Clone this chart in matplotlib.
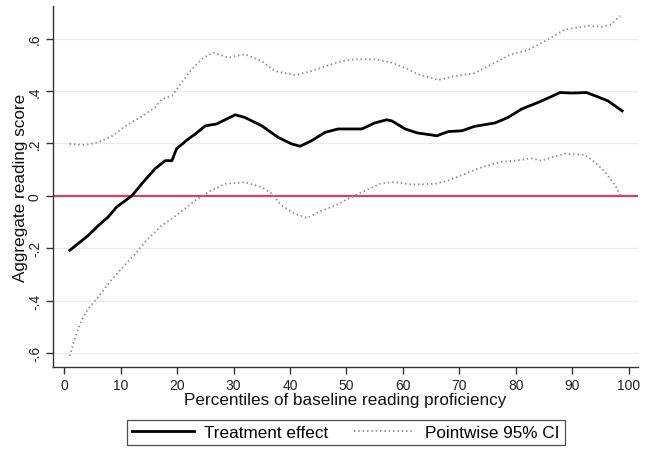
import matplotlib
matplotlib.use("Agg")
import matplotlib.pyplot as plt
from matplotlib.lines import Line2D

plt.rcParams["font.family"] = ["Liberation Sans", "DejaVu Sans"]

# Treatment effect by baseline percentile
effect_pct = [1, 4.3, 6.1, 7.8, 9.3, 12.0, 14.0, 16.1, 17.9, 19.1, 19.9, 22.0, 23.2,
              25.0, 27.0, 30.3, 32.0, 35.0, 37.9, 40.3, 41.8, 43.8, 46.2, 48.5, 52.7,
              55.0, 57.1, 58.0, 60.4, 62.5, 65.1, 66.0, 68.0, 70.4, 72.7, 76.3, 78.6,
              81.0, 83.9, 85.7, 87.8, 89.9, 92.5, 94.3, 96.3, 98.8]
effect_val = [-0.208, -0.151, -0.113, -0.081, -0.043, 0.000, 0.052, 0.103, 0.134, 0.134,
              0.179, 0.217, 0.235, 0.267, 0.274, 0.309, 0.299, 0.267, 0.223, 0.198,
              0.189, 0.210, 0.242, 0.255, 0.255, 0.278, 0.290, 0.286, 0.255, 0.240,
              0.232, 0.229, 0.245, 0.248, 0.265, 0.278, 0.299, 0.331, 0.356, 0.373,
              0.394, 0.392, 0.394, 0.379, 0.362, 0.324]

# Upper bound of pointwise 95% confidence interval
upper_pct = [1, 3.7, 6.1, 8.4, 9.0, 11.4, 13.7, 16.1, 17.3, 19.1, 20.8, 22.6, 24.7,
             26.4, 29.1, 32.0, 35.0, 37.3, 40.9, 43.8, 46.8, 49.2, 51.5, 55.0, 58.0,
             60.9, 62.5, 66.3, 69.2, 72.7, 76.3, 79.2, 82.2, 85.7, 88.7, 92.8, 95.2,
             96.9, 98.4]
upper_val = [0.198, 0.194, 0.204, 0.227, 0.236, 0.274, 0.302, 0.337, 0.369, 0.381,
             0.432, 0.483, 0.527, 0.546, 0.527, 0.540, 0.514, 0.476, 0.460, 0.476,
             0.498, 0.514, 0.521, 0.521, 0.508, 0.483, 0.465, 0.442, 0.457, 0.468,
             0.508, 0.540, 0.556, 0.597, 0.635, 0.648, 0.645, 0.654, 0.686]

# Lower bound of pointwise 95% confidence interval
lower_pct = [1, 1.9, 3.1, 4.3, 6.1, 8.1, 10.2, 12.6, 14.9, 17.3, 19.1, 21.4, 23.2,
             25.5, 28.5, 32.0, 35.0, 36.8, 38.5, 40.9, 43.0, 45.0, 48.0, 50.9, 53.3,
             56.2, 58.6, 61.5, 65.7, 68.0, 71.0, 73.9, 77.5, 79.8, 82.8, 84.5, 86.9,
             88.7, 92.2, 94.0, 95.8, 97.6, 98.7]
lower_val = [-0.611, -0.544, -0.474, -0.430, -0.385, -0.328, -0.278, -0.221, -0.163,
             -0.113, -0.087, -0.049, -0.018, 0.014, 0.046, 0.052, 0.033, 0.008, -0.037,
             -0.068, -0.085, -0.062, -0.037, -0.005, 0.020, 0.048, 0.052, 0.043, 0.046,
             0.058, 0.084, 0.109, 0.130, 0.134, 0.143, 0.134, 0.151, 0.160, 0.156,
             0.128, 0.090, 0.039, -0.005]

x_ticks = [0, 10, 20, 30, 40, 50, 60, 70, 80, 90, 100]
y_ticks = [-0.6, -0.4, -0.2, 0, 0.2, 0.4, 0.6]
y_tick_labels = ["-.6", "-.4", "-.2", "0", ".2", ".4", ".6"]

fig = plt.figure(figsize=(6.49, 4.52), dpi=100)
ax = fig.add_axes([0.0817, 0.1858, 0.9013, 0.7987])

for yv in y_ticks:
    ax.axhline(yv, color="#e6eef1", lw=1.0, zorder=0)
ax.axhline(0, color="#cf4466", lw=1.6, zorder=1)

dot_style = dict(color="#8c8c8c", lw=1.3, linestyle=(0, (0.8, 1.6)))
ax.plot(upper_pct, upper_val, zorder=2, **dot_style)
ax.plot(lower_pct, lower_val, zorder=2, **dot_style)
ax.plot(effect_pct, effect_val, color="black", lw=2.0, zorder=3,
        solid_joinstyle="round")

ax.set_xlim(-1.95, 101.6)
ax.set_ylim(-0.653, 0.724)
ax.set_xticks(x_ticks)
ax.set_yticks(y_ticks)
ax.set_yticklabels(y_tick_labels, rotation=90, va="center")

for side in ("top", "right"):
    ax.spines[side].set_visible(False)
for side in ("left", "bottom"):
    ax.spines[side].set_color("#333333")
    ax.spines[side].set_linewidth(1.0)
ax.tick_params(axis="both", direction="out", length=5, width=1.0,
               color="#333333", labelsize=10, labelcolor="#222222")
ax.tick_params(axis="x", pad=3)
ax.tick_params(axis="y", pad=3)

ax.set_xlabel("Percentiles of baseline reading proficiency", fontsize=12.3,
              color="#111111", labelpad=0)
ax.set_ylabel("Aggregate reading score", fontsize=12.3, color="#111111",
              labelpad=0)

handles = [
    Line2D([], [], color="black", lw=2.0),
    Line2D([], [], **dot_style),
]
leg = fig.legend(handles, ["Treatment effect", "Pointwise 95% CI"],
                 loc="center", bbox_to_anchor=(0.533, 0.041), ncol=2,
                 fontsize=12.3, frameon=True, fancybox=False,
                 handlelength=3.6, handletextpad=0.6, columnspacing=1.5,
                 borderpad=0.3)
leg.get_frame().set_edgecolor("#222222")
leg.get_frame().set_linewidth(0.9)

fig.savefig("out.png", dpi=100, facecolor="white")
